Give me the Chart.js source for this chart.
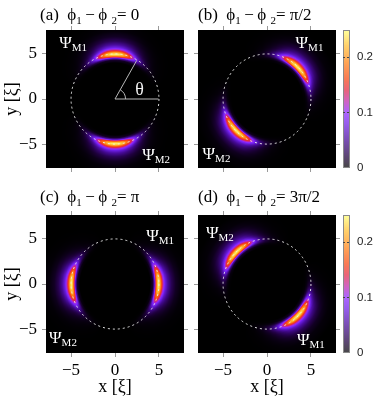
<!DOCTYPE html>
<html><head><meta charset="utf-8">
<script src="https://cdn.jsdelivr.net/npm/chart.js@4.4.1/dist/chart.umd.min.js"></script>
<style>
html,body{margin:0;padding:0;background:#fff;}
#wrap{position:relative;width:374px;height:400px;overflow:hidden;background:#fff;}
#wrap canvas{position:absolute;}
.t{position:absolute;font-family:"Liberation Serif",serif;font-size:17px;color:#000;white-space:pre;line-height:20px;}
.t .s{font-size:11px;position:relative;top:4px;}
</style></head><body>
<div id="wrap">
<canvas id="cA" width="190" height="200" style="left:0;top:0;width:190px;height:200px"></canvas>
<canvas id="cB" width="184" height="200" style="left:190px;top:0;width:184px;height:200px"></canvas>
<canvas id="cC" width="190" height="220" style="left:0;top:180px;width:190px;height:220px"></canvas>
<canvas id="cD" width="184" height="220" style="left:190px;top:180px;width:184px;height:220px"></canvas>
<div class="t" id="tA" style="left:40px;top:5px"></div>
<div class="t" id="tB" style="left:198px;top:5px"></div>
<div class="t" id="tC" style="left:40px;top:187px"></div>
<div class="t" id="tD" style="left:198px;top:187px"></div>
</div>
<script>
// ---------- data ----------
const xTicks = [-5, 0, 5];
const yTicks = [-5, 0, 5];
const colorbarTicks = [0, 0.1, 0.2];
const panelNames = ['(a)', '(b)', '(c)', '(d)'];
const phaseDifferences = ['0', 'π/2', 'π', '3π/2'];
const peakAngleM1 = [90, 45, 0, -45];      // degrees
const peakAngleM2 = [270, 225, 180, 135];  // degrees
const peakDensity = 0.243;
const colorbarMax = 0.248;
const radialDistance = [0, 4.0, 4.3, 4.5, 4.65, 4.8, 4.95, 5.1, 5.25, 5.45, 5.7, 6.0, 6.4, 6.9, 7.5, 8.5];
const radialProfile  = [0, 0, 0.06, 0.28, 0.62, 0.9, 1.0, 0.92, 0.72, 0.5, 0.33, 0.22, 0.12, 0.05, 0.015, 0];
const angleOffset     = [0, 5, 10, 14, 19, 24, 29, 35, 42, 50, 60, 72, 180];
const angularProfile  = [1, 0.98, 0.92, 0.82, 0.68, 0.5, 0.34, 0.2, 0.1, 0.04, 0.012, 0, 0];
const ringRadius = 5;
const thetaMarkerDeg = 60;
const xLimit = 7.85, yLimit = 7.65;

// ---------- annotation placement (data coords) ----------
const psiLabels = [
  [{s:'M1', x:-6.35, y:5.6}, {s:'M2', x:3.1, y:-6.75}],
  [{s:'M1', x:3.25, y:5.6}, {s:'M2', x:-7.33, y:-6.6}],
  [{s:'M1', x:3.55, y:4.8}, {s:'M2', x:-7.5, y:-6.5}],
  [{s:'M2', x:-6.95, y:5.1}, {s:'M1', x:3.4, y:-6.8}]
];

// ---------- colour map (style) ----------
const cmapStops = [
  [0.000, [0,0,0]],
  [0.020, [30,0,60]],
  [0.050, [70,10,150]],
  [0.080, [110,30,230]],
  [0.100, [140,40,255]],
  [0.120, [190,40,170]],
  [0.140, [225,40,70]],
  [0.160, [245,70,20]],
  [0.190, [255,130,20]],
  [0.220, [255,190,50]],
  [0.245, [255,250,110]]
];
function cmap(v){
  if (v <= cmapStops[0][0]) return cmapStops[0][1];
  for (let i = 1; i < cmapStops.length; i++){
    if (v <= cmapStops[i][0]){
      const a = cmapStops[i-1], b = cmapStops[i];
      const f = (v - a[0]) / (b[0] - a[0]);
      return [0,1,2].map(j => a[1][j] + f*(b[1][j]-a[1][j]));
    }
  }
  return cmapStops[cmapStops.length-1][1];
}
function lookup(xs, ys, v){
  if (v <= xs[0]) return ys[0];
  for (let i = 1; i < xs.length; i++){
    if (v <= xs[i]){ const f = (v - xs[i-1])/(xs[i]-xs[i-1]); return ys[i-1] + f*(ys[i]-ys[i-1]); }
  }
  return ys[ys.length-1];
}
function angDiff(a, b){ let d = Math.abs((((a-b)%360)+360)%360); return d > 180 ? 360-d : d; }
function density(k, x, y){
  const r = Math.hypot(x, y);
  const th = Math.atan2(y, x) * 180 / Math.PI;
  const R = lookup(radialDistance, radialProfile, r);
  const A = Math.max(lookup(angleOffset, angularProfile, angDiff(th, peakAngleM1[k])),
                     lookup(angleOffset, angularProfile, angDiff(th, peakAngleM2[k])));
  return peakDensity * R * A;
}

// ---------- titles ----------
['tA','tB','tC','tD'].forEach((id, k) => {
  document.getElementById(id).innerHTML =
    panelNames[k] + '  \u03D5<span class="s">1</span>\u2009\u2212\u2009\u03D5 <span class="s">2</span>= ' + phaseDifferences[k];
});

// ---------- plugin: heat map, ring, labels, colour bar ----------
const heatPlugin = {
  id: 'heat',
  beforeDatasetsDraw(chart, args, opts){
    const k = opts.k;
    const {ctx, chartArea: a, scales} = chart;
    const xs = scales.x, ys = scales.y;
    const w = Math.round(a.right - a.left), h = Math.round(a.bottom - a.top);
    const off = document.createElement('canvas'); off.width = w; off.height = h;
    const octx = off.getContext('2d');
    const img = octx.createImageData(w, h);
    for (let j = 0; j < h; j++){
      const yv = ys.getValueForPixel(a.top + j + 0.5);
      for (let i = 0; i < w; i++){
        const xv = xs.getValueForPixel(a.left + i + 0.5);
        const c = cmap(density(k, xv, yv));
        const p = (j*w + i)*4;
        img.data[p] = c[0]; img.data[p+1] = c[1]; img.data[p+2] = c[2]; img.data[p+3] = 255;
      }
    }
    octx.putImageData(img, 0, 0);
    ctx.save();
    ctx.drawImage(off, a.left, a.top);
    // dashed ring
    const cx = xs.getPixelForValue(0), cy = ys.getPixelForValue(0);
    const rx = xs.getPixelForValue(ringRadius) - cx, ry = cy - ys.getPixelForValue(ringRadius);
    ctx.beginPath();
    ctx.setLineDash([2, 3]);
    ctx.strokeStyle = 'rgba(235,235,235,0.95)';
    ctx.lineWidth = 1;
    ctx.ellipse(cx, cy, rx, ry, 0, 0, Math.PI*2);
    ctx.stroke();
    ctx.setLineDash([]);
    // theta marker in panel (a)
    if (k === 0){
      const t = thetaMarkerDeg * Math.PI/180;
      ctx.strokeStyle = '#b8b8b8';
      ctx.beginPath();
      ctx.moveTo(cx, cy); ctx.lineTo(xs.getPixelForValue(ringRadius*0.99), cy);
      ctx.moveTo(cx, cy); ctx.lineTo(xs.getPixelForValue(ringRadius*0.99*Math.cos(t)), ys.getPixelForValue(ringRadius*0.99*Math.sin(t)));
      ctx.stroke();
      const ar = xs.getPixelForValue(1.2) - cx;
      ctx.beginPath(); ctx.arc(cx, cy, ar, -t, 0); ctx.stroke();
      ctx.fillStyle = '#f0f0f0';
      ctx.font = '18px "Liberation Serif"';
      ctx.textAlign = 'center'; ctx.textBaseline = 'middle';
      ctx.fillText('\u03B8', xs.getPixelForValue(2.8), ys.getPixelForValue(1.0));
    }
    // Psi labels
    ctx.fillStyle = '#ffffff';
    ctx.textAlign = 'left'; ctx.textBaseline = 'alphabetic';
    psiLabels[k].forEach(L => {
      const px = xs.getPixelForValue(L.x), py = ys.getPixelForValue(L.y);
      ctx.font = '17px "Liberation Serif"';
      ctx.fillText('\u03A8', px, py);
      const wPsi = ctx.measureText('\u03A8').width;
      ctx.font = '11px "Liberation Serif"';
      ctx.fillText(L.s, px + wPsi, py + 3);
    });
    // colour bar
    if (scales.cb){
      const cb = scales.cb;
      const bx = cb.left + 3, bw = 7;
      const top = cb.getPixelForValue(colorbarMax), bot = cb.getPixelForValue(0);
      ctx.fillStyle = '#fff'; ctx.fillRect(bx, top, bw, bot-top);
      ctx.globalAlpha = 0.72;
      for (let yy = Math.floor(top); yy < bot; yy++){
        const v = cb.getValueForPixel(yy + 0.5);
        const c = cmap(Math.max(0, v));
        ctx.fillStyle = 'rgb(' + c.map(Math.round).join(',') + ')';
        ctx.fillRect(bx, yy, bw, 1);
      }
      ctx.globalAlpha = 1;
      ctx.strokeStyle = '#8a8a8a'; ctx.lineWidth = 1;
      ctx.strokeRect(bx + 0.5, top + 0.5, bw - 1, bot - top - 1);
      ctx.strokeStyle = '#444'; ctx.setLineDash([2, 2]);
      colorbarTicks.filter(v => v > 0).forEach(v => {
        const py = Math.round(cb.getPixelForValue(v)) + 0.5;
        ctx.beginPath(); ctx.moveTo(bx, py); ctx.lineTo(bx + bw, py); ctx.stroke();
      });
      ctx.setLineDash([]);
    }
    ctx.restore();
  }
};

// ---------- charts ----------
const panels = [
  {id:'cA', w:190, h:200, area:{l:46, r:184, t:30, b:168}, showX:false, showY:true,  bar:false},
  {id:'cB', w:184, h:200, area:{l:8,  r:146, t:30, b:168}, showX:false, showY:false, bar:true},
  {id:'cC', w:190, h:220, area:{l:46, r:184, t:35, b:173}, showX:true,  showY:true,  bar:false},
  {id:'cD', w:184, h:220, area:{l:8,  r:146, t:35, b:173}, showX:true,  showY:false, bar:true}
];
const serif = 'Liberation Serif';
function fmt(v){ return v < 0 ? '\u2212' + Math.abs(v) : String(v); }
function axis(opt){
  const isX = opt.axis === 'x';
  return {
    type: 'linear', axis: opt.axis, position: opt.position, weight: opt.weight || 0,
    min: isX ? -xLimit : -yLimit, max: isX ? xLimit : yLimit,
    afterBuildTicks: s => { s.ticks = (isX ? xTicks : yTicks).map(v => ({value: v})); },
    ticks: {display: !!opt.labels, font: {family: serif, size: 17}, color: '#000', padding: isX ? 3 : 5, callback: fmt},
    grid: {display: true, drawOnChartArea: false, drawTicks: true, tickLength: 4, color: '#9a9a9a', lineWidth: 1},
    border: {display: false},
    title: opt.title ? {display: true, text: opt.title, color: '#000', font: {family: serif, size: 18},
                        padding: isX ? {top: 0, bottom: 2} : {top: 1, bottom: 0}} : {display: false},
    afterFit: s => { if (isX) s.height = opt.size; else s.width = opt.size; }
  };
}
panels.forEach((P, k) => {
  const scales = {
    x:  axis({axis:'x', position:'bottom', labels:P.showX, size:P.h - P.area.b, title:P.showX ? 'x [\u03BE]' : null}),
    x2: axis({axis:'x', position:'top', labels:false, size:P.area.t}),
    y:  axis({axis:'y', position:'left', labels:P.showY, size:P.area.l, title:P.showY ? 'y [\u03BE]' : null}),
    y2: axis({axis:'y', position:'right', labels:false, size:P.bar ? 4 : P.w - P.area.r, weight:0})
  };
  if (P.bar){
    scales.cb = {
      type:'linear', axis:'y', position:'right', weight:1, min:0, max:colorbarMax,
      afterBuildTicks: s => { s.ticks = colorbarTicks.map(v => ({value: v})); },
      ticks: {display:true, font:{family:'Liberation Sans', size:11.5}, color:'#222', padding:17,
              callback: v => v === 0 ? '0' : v.toFixed(1)},
      grid: {display:false, drawTicks:false},
      border: {display:false},
      afterFit: s => { s.width = P.w - P.area.r - 4; }
    };
  }
  new Chart(document.getElementById(P.id), {
    type: 'scatter',
    data: {datasets: []},
    options: {
      responsive: false, animation: false, devicePixelRatio: 1,
      layout: {padding: 0},
      plugins: {legend: {display: false}, tooltip: {enabled: false}, title: {display: false}, heat: {k}},
      scales
    },
    plugins: [heatPlugin]
  });
});
</script>
</body></html>
